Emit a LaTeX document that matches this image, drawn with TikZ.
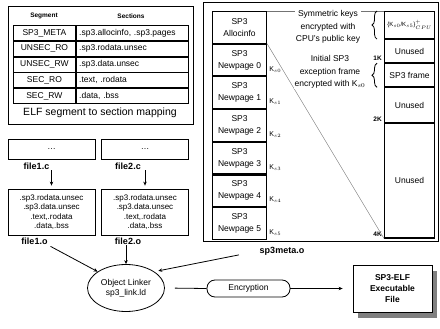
\documentclass[tikz,border=0pt]{standalone}
\usepackage{fontspec}
\setmainfont{Liberation Sans}
\usetikzlibrary{positioning,arrows.meta,calc,fit,shapes.geometric,decorations.pathreplacing,shadows}
\newcommand{\txtsize}[2]{\fontsize{#1}{#2}\selectfont}

\begin{document}
\begin{tikzpicture}[
  x=1pt, y=-1pt,
  node distance=4pt and 4pt,
  segcell/.style={draw, thick, minimum width=62pt, minimum height=15pt, inner sep=1pt, font=\txtsize{8.5}{10}},
  seccell/.style={draw, thick, minimum width=112pt, minimum height=15pt, inner sep=3pt, text width=106pt, align=left, font=\txtsize{8.5}{10}},
  hdr/.style={font=\bfseries\txtsize{6.5}{8}},
  srcbox/.style={draw, thick, minimum width=87pt, minimum height=20pt, font=\txtsize{8.5}{10}},
  objbox/.style={draw, thick, minimum width=87pt, minimum height=46pt, align=center, inner sep=1pt, font=\txtsize{8}{9.4}},
  fname/.style={font=\bfseries\txtsize{9}{10}, inner sep=1pt},
  pagebox/.style={draw, line width=1.1pt, minimum width=54pt, minimum height=31.6pt, align=center, inner sep=1pt, font=\txtsize{8.5}{12}},
  mem/.style={draw, line width=1.1pt, minimum width=50pt, align=center, inner sep=1pt, font=\txtsize{8.5}{10}},
  keylbl/.style={font=\txtsize{7}{8}, inner sep=1pt},
  kbmark/.style={font=\bfseries\txtsize{6.5}{7}, inner sep=1pt},
  note/.style={fill=white, align=center, inner sep=1pt, font=\txtsize{8.5}{12.5}},
  bracedeco/.style={decorate, decoration={brace, amplitude=5pt}, thick},
  arrow/.style={-{Stealth[length=4pt,width=3.5pt]}, thick},
  guide/.style={draw=black!55, thin}
]
\useasboundingbox (0,0) rectangle (440,329);

% segment / section table
\node[hdr] (hseg) at (44,16) {Segment};
\node[hdr] (hsec) at (131,16) {Sections};
\node[segcell, anchor=north west] (seg1) at (13,25) {SP3\_META};
\node[seccell, right=0pt of seg1] (sec1) {.sp3.allocinfo, .sp3.pages};
\node[segcell, below=0pt of seg1] (seg2) {UNSEC\_RO};
\node[seccell, right=0pt of seg2] (sec2) {.sp3.rodata.unsec};
\node[segcell, below=0pt of seg2] (seg3) {UNSEC\_RW};
\node[seccell, right=0pt of seg3] (sec3) {.sp3.data.unsec};
\node[segcell, below=0pt of seg3] (seg4) {SEC\_RO};
\node[seccell, right=0pt of seg4] (sec4) {.text, .rodata};
\node[segcell, below=0pt of seg4] (seg5) {SEC\_RW};
\node[seccell, right=0pt of seg5] (sec5) {.data, .bss};
\node[font=\txtsize{10.5}{12}] (cap) at (100,113) {ELF segment to section mapping};
\node[draw, thick, fit=(hseg)(hsec)(seg1)(sec5)(cap), inner xsep=5pt, inner ysep=3pt] (mapbox) {};

% source and object files
\node[srcbox] (f1c) at (51.5,149) {\ldots};
\node[srcbox] (f2c) at (145,149) {\ldots};
\node[fname, below=2pt of f1c, xshift=-15pt] (l1c) {file1.c};
\node[fname, below=2pt of f2c, xshift=-17pt] (l2c) {file2.c};
\node[objbox] (f1o) at (51.5,212) {.sp3.rodata.unsec\\.sp3.data.unsec\\.text,.rodata\\.data,.bss};
\node[objbox] (f2o) at (145,212) {.sp3.rodata.unsec\\.sp3.data.unsec\\.text,.rodata\\.data,.bss};
\node[fname, below=1pt of f1o, xshift=-17pt] (l1o) {file1.o};
\node[fname, below=1pt of f2o, xshift=-17pt] (l2o) {file2.o};
\draw[arrow, shorten >=3pt] (f1c.south |- l1c.south) -- (f1o.north);
\draw[arrow, shorten >=3pt] (f2c.south |- l2c.south) -- (f2o.north);

% linking and encryption
\node[ellipse, draw, thick, minimum width=77pt, minimum height=47pt, align=center, inner sep=1pt, font=\txtsize{8.5}{10}] (link) at (126,288) {Object Linker\\sp3\_link.ld};
\node[fname] (meta) at (282,251) {sp3meta.o};
\node[draw, thick, rounded corners=8pt, minimum width=83pt, minimum height=17pt, font=\txtsize{8.5}{10}] (enc) at (248.5,288.5) {Encryption};
\node[draw, thick, fill=white, drop shadow={shadow xshift=5pt, shadow yshift=-6pt, fill=black!50, opacity=1}, minimum width=79pt, minimum height=47pt, align=center, font=\bfseries\txtsize{8.5}{11}] (elf) at (392.5,288.5) {SP3-ELF\\Executable\\File};
\draw[arrow, shorten <=2pt] (l1o.south east) -- (link.150);
\draw[arrow] (link.north |- l2o.south) -- (link.north);
\draw[arrow, shorten <=20pt, shorten >=4pt] (meta.west) -- (link.30);
\draw[thick, shorten <=10pt] (link.east) -- (enc.west);
\draw[arrow, shorten >=10pt] (enc.east) -- (elf.west);

% SP3 pages and memory layout
\draw[thick] (203,2) rectangle (438,241);
\node[pagebox, anchor=north west] (alloc) at (212,11) {SP3\\Allocinfo};
\node[pagebox, below=0pt of alloc] (np0) {SP3\\Newpage 0};
\node[pagebox, below=0pt of np0] (np1) {SP3\\Newpage 1};
\node[pagebox, below=0pt of np1] (np2) {SP3\\Newpage 2};
\node[pagebox, below=0pt of np2] (np3) {SP3\\Newpage 3};
\node[pagebox, below=0pt of np3] (np4) {SP3\\Newpage 4};
\node[pagebox, below=0pt of np4] (np5) {SP3\\Newpage 5};
\node[keylbl, above right=3pt and 1pt of np0.south east] {K$_{s0}$};
\node[keylbl, above right=3pt and 1pt of np1.south east] {K$_{s1}$};
\node[keylbl, above right=3pt and 1pt of np2.south east] {K$_{s2}$};
\node[keylbl, above right=3pt and 1pt of np3.south east] {K$_{s3}$};
\node[keylbl, above right=3pt and 1pt of np4.south east] {K$_{s4}$};
\node[keylbl, above right=3pt and 1pt of np5.south east] {K$_{s5}$};

\node[mem, anchor=north west, minimum height=27pt, font=\txtsize{6}{7}] (m1) at (384,11) {\{K$_{s0}$/K$_{s5}$\}$^{+}_{CPU}$};
\node[mem, below=0pt of m1, minimum height=23pt] (m2) {Unused};
\node[mem, below=0pt of m2, minimum height=23pt] (m3) {SP3 frame};
\node[mem, below=0pt of m3, minimum height=35pt] (m4) {Unused};
\node[mem, below=0pt of m4, minimum height=114pt] (m5) {Unused};
\node[kbmark, above left=1pt and 1pt of m3.north west] {1K};
\node[kbmark, above left=1pt and 1pt of m5.north west] {2K};
\node[kbmark, above left=1pt and 1pt of m5.south west] {4K};

\draw[guide] (alloc.north east) -- (m1.north west);
\draw[guide] (alloc.south east) -- (m5.south west);
\node[note] (symkeys) at (328,27) {Symmetric keys\\encrypted with\\CPU's public key};
\node[note] (initframe) at (330,72) {Initial SP3\\exception frame\\encrypted with K$_{s0}$};
\draw[bracedeco] ([xshift=-7pt]m1.south west) -- ([xshift=-7pt]m1.north west);
\draw[bracedeco] ([xshift=-7pt]m3.south west) -- ([xshift=-7pt]m3.north west);
\end{tikzpicture}
\end{document}
